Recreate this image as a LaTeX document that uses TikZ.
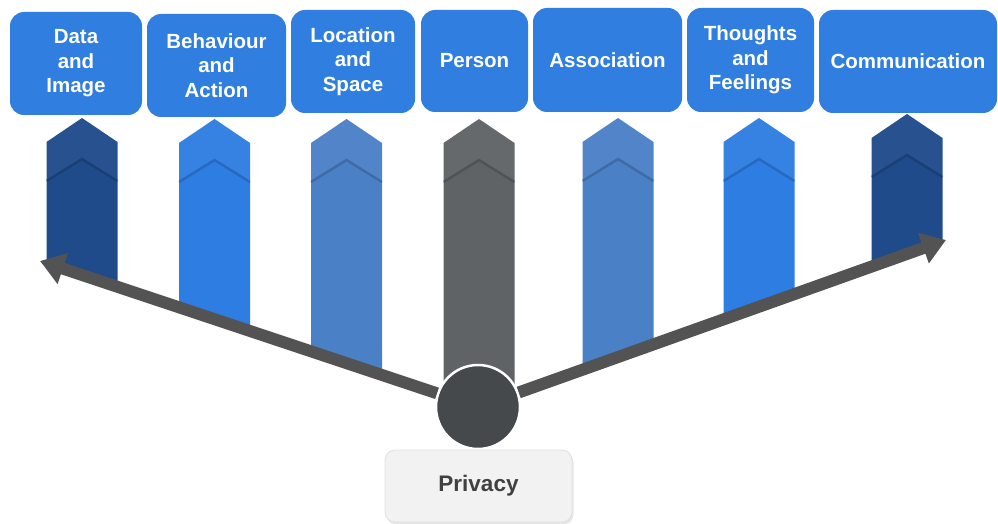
\documentclass[tikz,border=0pt]{standalone}
\usepackage{fontspec}
\setmainfont{Liberation Sans}
\usetikzlibrary{arrows.meta,shadows}
\definecolor{boxblue}{HTML}{2F7EE0}
\definecolor{navy}{HTML}{1F4B8B}
\definecolor{bright}{HTML}{2E7DE2}
\definecolor{steel}{HTML}{4A80C6}
\definecolor{slate}{HTML}{5F6366}
\definecolor{hubgray}{HTML}{45494C}
\definecolor{arrowgray}{HTML}{535353}
\definecolor{privfill}{HTML}{F2F2F2}
\definecolor{privtext}{HTML}{404040}
% #1 centre x, #2 tip y, #3 bottom-left y, #4 bottom-right y, #5 colour
\newcommand\colarrow[5]{%
  \path[fill=#5] (#1-35.5,#3) -- (#1-35.5,#2+24) -- (#1,#2) -- (#1+35.5,#2+24) -- (#1+35.5,#4) -- cycle;
  \path[fill=white,fill opacity=0.04] (#1-35.5,#2+62) -- (#1-35.5,#2+24) -- (#1,#2) -- (#1+35.5,#2+24) -- (#1+35.5,#2+62) -- (#1,#2+40) -- cycle;
  \draw[#5!65!black,line width=2.5pt,opacity=0.45] (#1-35.5,#2+63) -- (#1,#2+41) -- (#1+35.5,#2+63);
}
\tikzset{
  topbox/.style={rounded corners=14pt,fill=boxblue,text=white,inner sep=0pt,align=center,
    font=\fontsize{20.5}{24.5}\selectfont\bfseries},
  hubstyle/.style={circle,fill=hubgray,draw=white,line width=2.5pt,minimum size=84pt,inner sep=0pt},
  privstyle/.style={rounded corners=10pt,fill=privfill,draw=black!12,line width=0.8pt,
    minimum width=187pt,minimum height=72pt,inner sep=0pt,text=privtext,
    font=\fontsize{22.5}{26}\selectfont\bfseries,
    drop shadow={opacity=0.2,shadow xshift=1.5pt,shadow yshift=-2.5pt}},
  arrowline/.style={draw=arrowgray,line width=12pt,-{Triangle[length=24pt,width=31pt]}}
}
\begin{document}
\begin{tikzpicture}[x=1pt,y=-1pt]
\useasboundingbox (0,0) rectangle (998,524);
% columns
\colarrow{82}{118}{262}{285}{navy}
\colarrow{214.5}{119}{306}{330}{bright}
\colarrow{346.5}{119}{351}{375}{steel}
\colarrow{479}{119}{400}{400}{slate}
\colarrow{618}{118}{370}{344}{steel}
\colarrow{759}{118}{319}{294}{bright}
\colarrow{907}{114}{266}{241}{navy}
% hub and arrows
\coordinate (L) at (40,261);
\coordinate (R) at (946,240);
\node[hubstyle] (hub) at (478,407) {};
\draw[arrowline] (hub) -- (L);
\draw[arrowline] (hub) -- (R);
% privacy
\node[privstyle] (privacy) at (478.5,486) {Privacy};
% top boxes
\node[topbox,minimum width=132pt,minimum height=103pt] (data) at (76,63.5) {Data\\and\\Image};
\node[topbox,minimum width=139pt,minimum height=103pt] (behav) at (216.5,65.5) {Behaviour\\and\\Action};
\node[topbox,minimum width=124pt,minimum height=103pt] (loc) at (353,61.5) {Location\\and\\Space};
\node[topbox,minimum width=107pt,minimum height=102pt] (person) at (474.5,61) {Person};
\node[topbox,minimum width=149pt,minimum height=104pt] (assoc) at (607.5,60) {Association};
\node[topbox,minimum width=127pt,minimum height=104pt] (thoughts) at (750.5,60) {Thoughts\\and\\Feelings};
\node[topbox,minimum width=178pt,minimum height=103pt] (comm) at (908,61.5) {Communication};
\end{tikzpicture}
\end{document}
